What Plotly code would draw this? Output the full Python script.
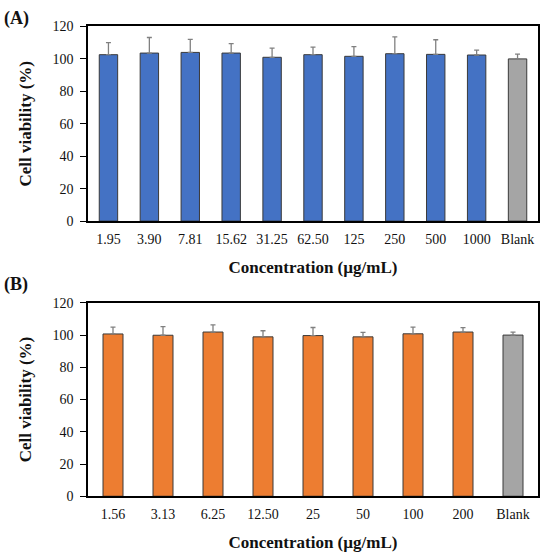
import plotly.graph_objects as go

# Panel A data
cats_a = ["1.95", "3.90", "7.81", "15.62", "31.25", "62.50", "125", "250", "500", "1000", "Blank"]
vals_a = [102.6, 103.6, 104.0, 103.6, 101.0, 102.6, 101.6, 103.2, 102.8, 102.4, 100.0]
sd_a = [7.4, 9.6, 8.0, 5.8, 5.6, 4.6, 6.0, 10.4, 9.0, 3.0, 3.0]

# Panel B data
cats_b = ["1.56", "3.13", "6.25", "12.50", "25", "50", "100", "200", "Blank"]
vals_b = [100.7, 99.9, 101.9, 98.9, 99.7, 98.9, 100.8, 101.9, 100.0]
sd_b = [4.2, 5.4, 4.4, 3.8, 5.0, 2.8, 4.1, 2.7, 1.9]

BLUE = "#4472C4"
ORANGE = "#ED7D31"
GRAY = "#A5A5A5"
FONT = "Liberation Serif, Times New Roman, serif"

fig = go.Figure()

colors_a = [BLUE] * (len(cats_a) - 1) + [GRAY]
colors_b = [ORANGE] * (len(cats_b) - 1) + [GRAY]

fig.add_trace(go.Bar(
    x=cats_a, y=vals_a, xaxis="x", yaxis="y", width=0.45,
    marker=dict(color=colors_a, line=dict(color="#3A3A3A", width=1)),
    error_y=dict(type="data", array=sd_a, arrayminus=[0] * len(sd_a), symmetric=False,
                 color="#808080", thickness=1.3, width=2.5),
    showlegend=False,
))
fig.add_trace(go.Bar(
    x=cats_b, y=vals_b, xaxis="x2", yaxis="y2", width=0.4,
    marker=dict(color=colors_b, line=dict(color="#3A3A3A", width=1)),
    error_y=dict(type="data", array=sd_b, arrayminus=[0] * len(sd_b), symmetric=False,
                 color="#808080", thickness=1.3, width=2.5),
    showlegend=False,
))

xdom = [88 / 543, 538 / 543]
common_x = dict(type="category", showline=True, mirror=True, linecolor="black", linewidth=1.5,
                ticks="", ticklen=0, showgrid=False, ticklabeloverflow="allow",
                ticklabelstandoff=4,
                tickfont=dict(family=FONT, size=14, color="#111"),
                title=dict(text="Concentration (µg/mL)",
                           font=dict(family=FONT, size=17, color="#111", weight="bold"),
                           standoff=15))
common_y = dict(range=[0, 120], dtick=20, showline=True, mirror=True, linecolor="black", linewidth=1.5,
                ticks="outside", ticklen=6, tickcolor="black", showgrid=False, zeroline=False,
                ticklabelstandoff=4,
                tickfont=dict(family=FONT, size=14, color="#111"),
                title=dict(text="Cell viability (%)",
                           font=dict(family=FONT, size=17, color="#111", weight="bold"),
                           standoff=16))

fig.update_layout(
    width=543, height=560, autosize=False,
    margin=dict(l=0, r=0, t=0, b=0),
    paper_bgcolor="white", plot_bgcolor="white",
    xaxis=dict(domain=xdom, anchor="y", **common_x),
    yaxis=dict(domain=[1 - 220 / 560, 1 - 20 / 560], anchor="x", **common_y),
    xaxis2=dict(domain=xdom, anchor="y2", **common_x),
    yaxis2=dict(domain=[1 - 502.7 / 560, 1 - 304 / 560], anchor="x2", **common_y),
    annotations=[
        dict(text="(A)", x=2 / 543, y=1 - 12 / 560, xref="paper", yref="paper",
             xanchor="left", yanchor="middle", showarrow=False,
             font=dict(family=FONT, size=18, color="#111", weight="bold")),
        dict(text="(B)", x=2 / 543, y=1 - 285 / 560, xref="paper", yref="paper",
             xanchor="left", yanchor="middle", showarrow=False,
             font=dict(family=FONT, size=18, color="#111", weight="bold")),
    ],
)

fig.write_html("out.html", config={"displayModeBar": False},
               post_script="document.body.style.margin='0';")
